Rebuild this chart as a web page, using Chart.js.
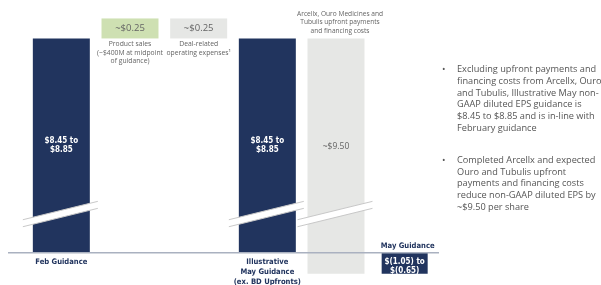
<!DOCTYPE html>
<html>
<head>
<meta charset="utf-8">
<script src="https://cdn.jsdelivr.net/npm/chart.js@4.4.1/dist/chart.umd.min.js"></script>
<style>
  body { margin: 0; background: #fff; overflow: hidden; }
  #wrap { position: relative; width: 601px; height: 285px; }
  #notes {
    position: absolute; left: 437px; top: 63px; width: 164px;
    font-family: "Open Sans", sans-serif; font-size: 9.2px; line-height: 11.8px;
    color: #555; white-space: nowrap; overflow: hidden;
  }
  #notes .item { position: relative; padding-left: 20px; margin-bottom: 20px; }
  #notes .item:before { content: "•"; position: absolute; left: 5px; top: 0; }
</style>
</head>
<body>
<div id="wrap">
  <canvas id="graficEps" width="601" height="285"></canvas>
  <div id="notes">
    <div class="item">Excluding upfront payments and<br>financing costs from Arcellx, Ouro<br>and Tubulis, Illustrative May non-<br>GAAP diluted EPS guidance is<br>$8.45 to $8.85 and is in-line with<br>February guidance</div>
    <div class="item">Completed Arcellx and expected<br>Ouro and Tubulis upfront<br>payments and financing costs<br>reduce non-GAAP diluted EPS by<br>~$9.50 per share</div>
  </div>
</div>
<script>
const categories = ["Feb Guidance", "Product sales", "Deal-related", "Illustrative May Guidance", "BD upfronts", "May Guidance"];
const febRange = [8.45, 8.85];
const illustrativeRange = [8.45, 8.85];
const stepValues = [-0.25, -0.25]; // product sales, deal-related opex
const upfrontCost = -9.50;
const mayRange = [-1.05, -0.65];

const navy = "rgb(33, 52, 94)";
const grey = "rgb(230, 231, 229)";
const green = "rgb(206, 224, 178)";
const textGrey = "rgb(100, 100, 100)";

const mid = (r) => (r[0] + r[1]) / 2;
const money = (v) => v < 0 ? "$(" + Math.abs(v).toFixed(2) + ")" : "$" + v.toFixed(2);
const febMid = mid(febRange);
const illMid = mid(illustrativeRange);
const mayMid = mid(mayRange);

const condBold = (size) => "bold " + size + "px 'DejaVu Sans Condensed', 'DejaVu Sans', sans-serif";
const sans = (size) => size + "px 'Open Sans', sans-serif";

function lines(ctx, arr, x, y, step) {
  arr.forEach((t, i) => ctx.fillText(t, x, y + i * step));
}

const annotations = {
  id: "annotations",
  afterDatasetsDraw(chart) {
    const ctx = chart.ctx;
    const x = chart.scales.x;
    const y = chart.scales.y;
    const bar = chart.getDatasetMeta(0).data[0];
    const w = bar.width;
    const zero = y.getPixelForValue(0);
    ctx.save();

    // axis line
    ctx.strokeStyle = "rgb(170, 177, 192)";
    ctx.lineWidth = 1.5;
    ctx.beginPath();
    ctx.moveTo(8, zero);
    ctx.lineTo(x.right, zero);
    ctx.stroke();

    // axis break bands
    [0, 3, 4].forEach((i) => {
      const c = x.getPixelForValue(i);
      const yc = zero - 39;
      const xl = c - w / 2 - 10;
      const xr = c + w / 2 + 8;
      const yAt = (xx) => yc - 0.245 * (xx - c);
      ctx.fillStyle = "#fff";
      ctx.beginPath();
      ctx.moveTo(xl, yAt(xl) - 3.5);
      ctx.lineTo(xr, yAt(xr) - 3.5);
      ctx.lineTo(xr, yAt(xr) + 3.5);
      ctx.lineTo(xl, yAt(xl) + 3.5);
      ctx.closePath();
      ctx.fill();
      ctx.strokeStyle = "rgb(200, 200, 200)";
      ctx.lineWidth = 1;
      ctx.beginPath();
      ctx.moveTo(xl, yAt(xl) - 3.5);
      ctx.lineTo(xr, yAt(xr) - 3.5);
      ctx.moveTo(xl, yAt(xl) + 3.5);
      ctx.lineTo(xr, yAt(xr) + 3.5);
      ctx.stroke();
    });

    // step boxes above the Feb level
    const top = y.getPixelForValue(febMid);
    const stepNotes = [["Product sales", "(~$400M at midpoint", "of guidance)"], ["Deal-related", "operating expenses\u00b9"]];
    stepValues.forEach((v, k) => {
      const c = x.getPixelForValue(k + 1);
      ctx.fillStyle = k === 0 ? green : grey;
      ctx.fillRect(c - w / 2, top - 20, w, 20);
      ctx.fillStyle = textGrey;
      ctx.textAlign = "center";
      ctx.textBaseline = "middle";
      ctx.font = sans(9.5);
      ctx.fillText("~$" + Math.abs(v).toFixed(2), c, top - 10);
      ctx.font = sans(6.8);
      lines(ctx, stepNotes[k], c, top + 6, 8.5);
    });

    // values inside bars
    ctx.fillStyle = "#fff";
    ctx.font = condBold(8);
    [[0, febRange], [3, illustrativeRange]].forEach(([i, r]) => {
      const c = x.getPixelForValue(i);
      lines(ctx, [money(r[0]) + " to", money(r[1])], c, y.getPixelForValue(febMid / 2) - 4.5, 9);
    });
    const cGrey = x.getPixelForValue(4);
    ctx.fillStyle = textGrey;
    ctx.font = sans(8.5);
    ctx.fillText("~$" + Math.abs(upfrontCost).toFixed(2), cGrey, y.getPixelForValue(febMid / 2) + 1);
    ctx.font = sans(6.6);
    lines(ctx, ["Arcellx, Ouro Medicines and", "Tubulis upfront payments", "and financing costs"], cGrey + 4, 14, 8.4);

    // May box
    const cMay = x.getPixelForValue(5);
    ctx.fillStyle = "#fff";
    ctx.font = condBold(8);
    lines(ctx, [money(mayRange[0]) + " to", money(mayRange[1])], cMay, zero + 9, 9.5);

    // category labels
    ctx.fillStyle = navy;
    ctx.font = condBold(7.6);
    ctx.fillText(categories[5], cMay + 3, zero - 7);
    ctx.fillText(categories[0], x.getPixelForValue(0), zero + 9);
    lines(ctx, ["Illustrative", "May Guidance", "(ex. BD Upfronts)"], x.getPixelForValue(3), zero + 9, 10);
    ctx.restore();
  }
};

// eslint-disable-next-line no-undef
new Chart(document.querySelector("#graficEps"), {
  type: "bar",
  data: {
    labels: categories,
    datasets: [
      {
        data: [[0, febMid], null, null, [0, illMid], null, null],
        backgroundColor: navy,
        barPercentage: 0.83,
      },
      {
        data: [null, null, null, null, [illMid + upfrontCost, illMid], null],
        backgroundColor: grey,
        barPercentage: 0.83,
      },
      {
        data: [null, null, null, null, null, [0, mayMid]],
        backgroundColor: navy,
        barPercentage: 0.67,
      },
    ],
  },
  options: {
    responsive: false,
    animation: false,
    layout: { padding: { left: 27, right: 162, top: 5, bottom: 0 } },
    datasets: { bar: { grouped: false, categoryPercentage: 1 } },
    scales: {
      x: { display: false },
      y: { display: false, min: -1.3, max: 10 },
    },
    plugins: { legend: { display: false }, tooltip: { enabled: false } },
  },
  plugins: [annotations],
});
</script>
</body>
</html>
